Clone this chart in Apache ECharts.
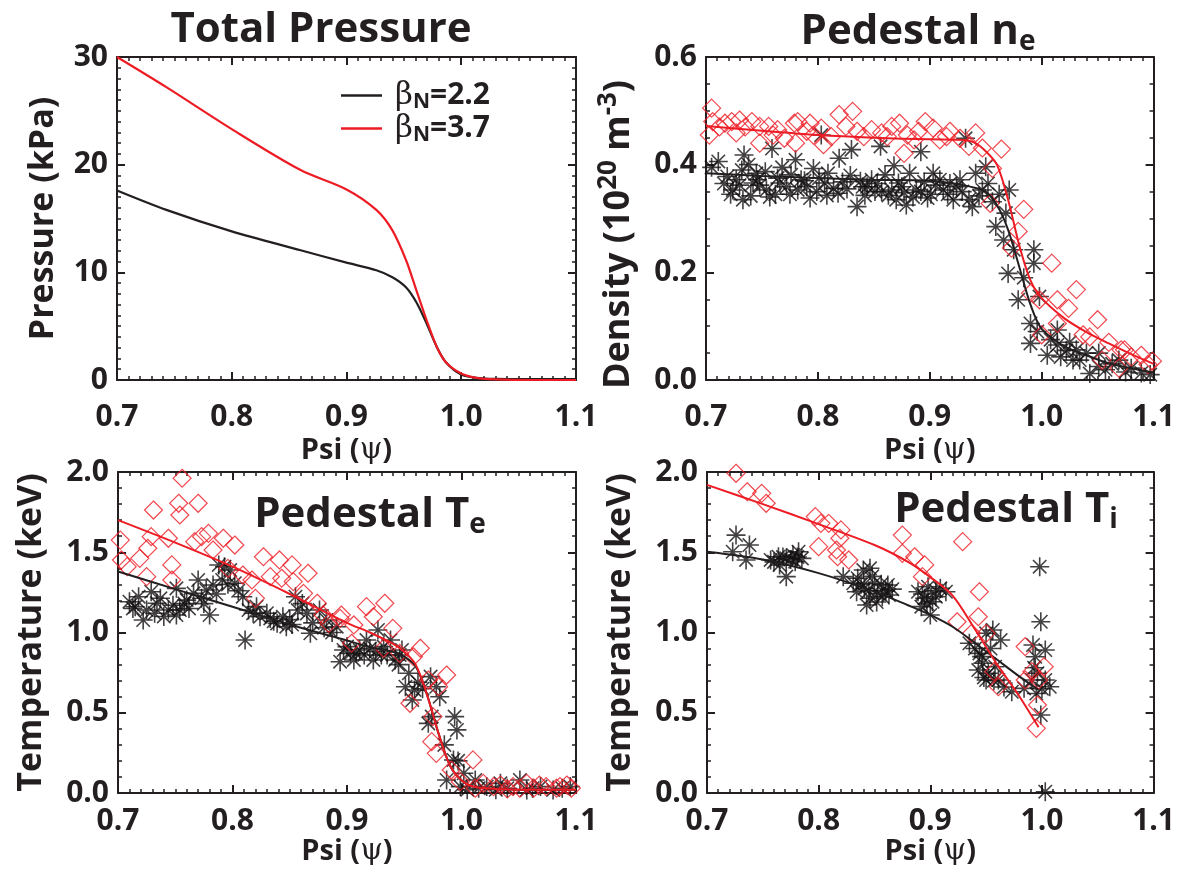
<!DOCTYPE html>
<html>
<head>
<meta charset="utf-8">
<script src="https://cdn.jsdelivr.net/npm/echarts@6/dist/echarts.min.js"></script>
<style>
  html, body { margin: 0; padding: 0; background: #ffffff; }
  #main { width: 1178px; height: 871px; }
</style>
</head>
<body>
<div id="main"></div>
<script>
// ---------------- data ----------------
const betaN = ['2.2', '3.7'];

// Total pressure profiles (kPa) vs normalised flux
const psiP   = [0.70, 0.743, 0.80, 0.86, 0.90, 0.926, 0.94, 0.952, 0.961, 0.97, 0.979, 0.987, 1.00, 1.013, 1.03, 1.06, 1.10];
const pLow   = [17.6, 15.8, 13.8, 12.05, 10.9, 10.2, 9.55, 8.6, 7.2, 5.2, 3.0, 1.6, 0.5, 0.2, 0.1, 0.08, 0.08];
const pHigh  = [30.0, 27.2, 23.3, 19.5, 17.7, 15.8, 13.9, 11.1, 8.3, 5.5, 3.0, 1.6, 0.6, 0.2, 0.05, 0.0, 0.0];

// Pedestal density fits (1e20 m^-3)
const psiN      = [0.70, 0.75, 0.80, 0.85, 0.90, 0.93, 0.94, 0.95, 0.96, 0.97, 0.98, 0.99, 1.00, 1.02, 1.04, 1.06, 1.08, 1.10];
const neLowFit  = [0.384, 0.379, 0.375, 0.372, 0.370, 0.362, 0.357, 0.350, 0.325, 0.279, 0.210, 0.140, 0.095, 0.063, 0.046, 0.031, 0.022, 0.014];
const neHighFit = [0.472, 0.463, 0.455, 0.450, 0.447, 0.446, 0.441, 0.425, 0.400, 0.335, 0.250, 0.185, 0.152, 0.115, 0.089, 0.068, 0.048, 0.030];

const neLowPts = [
  [0.711,0.406],[0.719,0.378],[0.724,0.353],[0.730,0.362],[0.734,0.418],[0.732,0.390],[0.738,0.400],[0.745,0.384],
  [0.748,0.362],[0.754,0.353],[0.753,0.387],[0.759,0.430],[0.764,0.375],[0.772,0.359],[0.776,0.381],[0.780,0.409],
  [0.782,0.353],[0.790,0.359],[0.796,0.393],[0.799,0.350],[0.803,0.455],[0.809,0.384],[0.814,0.356],[0.818,0.347],
  [0.819,0.412],[0.830,0.428],[0.835,0.322],[0.838,0.369],[0.844,0.359],[0.851,0.350],[0.856,0.434],[0.860,0.381],
  [0.866,0.353],[0.870,0.335],[0.879,0.325],[0.882,0.384],[0.888,0.353],[0.892,0.424],[0.898,0.338],[0.903,0.384],
  [0.912,0.353],[0.924,0.359],[0.932,0.449],[0.935,0.335],[0.941,0.384],[0.947,0.353],[0.956,0.331],[0.950,0.396],
  [0.971,0.353],[0.959,0.285],[0.966,0.260],[0.975,0.242],[0.993,0.242],[0.993,0.217],[0.970,0.198],[0.979,0.149],
  [0.998,0.155],[0.990,0.105],[0.990,0.068],[1.014,0.093],[1.014,0.065],[1.017,0.043],[1.031,0.056],[1.034,0.037],
  [1.051,0.050],[1.057,0.019],[1.069,0.037],[1.080,0.022],[1.089,0.013],[1.051,0.025],[1.005,0.046],[1.028,0.037],
  [1.043,0.012],[0.840,0.359],[0.857,0.350],[0.875,0.359],[0.892,0.350],[0.921,0.335],[0.927,0.372],[0.938,0.322],
  [0.705,0.395],[0.716,0.365],[0.727,0.372],[0.742,0.366],[0.766,0.366],[0.788,0.370],[0.806,0.366],[0.826,0.355],
  [0.848,0.372],[0.872,0.366],[0.905,0.362],[0.916,0.345],[0.762,0.345],[0.740,0.342],
  [0.722,0.345],[0.733,0.335],[0.746,0.372],[0.757,0.340],[0.768,0.395],[0.775,0.345],[0.785,0.372],[0.793,0.338],
  [0.801,0.375],[0.808,0.343],[0.822,0.368],[0.829,0.380],[0.842,0.343],[0.853,0.365],[0.863,0.343],[0.868,0.398],
  [0.877,0.348],[0.885,0.340],[0.895,0.368],[0.901,0.345],[0.909,0.372],[0.918,0.365],[0.929,0.350],[0.944,0.342],
  [0.952,0.365],[0.962,0.345],[0.968,0.310],[0.984,0.190],[0.996,0.090],[1.008,0.075],[1.022,0.055],[1.025,0.070],
  [1.040,0.050],[1.063,0.030],[1.075,0.015],[1.097,0.010]
];
const neHighPts = [
  [0.705,0.505],[0.706,0.480],[0.703,0.455],[0.717,0.477],[0.723,0.480],[0.730,0.483],[0.727,0.459],[0.741,0.480],
  [0.748,0.471],[0.756,0.471],[0.748,0.440],[0.764,0.465],[0.770,0.449],[0.779,0.477],[0.782,0.480],[0.780,0.440],
  [0.793,0.477],[0.796,0.455],[0.803,0.468],[0.805,0.437],[0.819,0.493],[0.831,0.499],[0.825,0.471],[0.841,0.452],
  [0.848,0.465],[0.857,0.459],[0.866,0.471],[0.873,0.477],[0.880,0.455],[0.896,0.480],[0.877,0.421],[0.886,0.446],
  [0.903,0.468],[0.918,0.462],[0.909,0.446],[0.927,0.449],[0.941,0.459],[0.935,0.434],[0.947,0.431],[0.964,0.429],
  [0.956,0.393],[0.954,0.328],[0.984,0.317],[0.979,0.276],[0.973,0.245],[1.009,0.217],[0.990,0.161],[0.998,0.149],
  [1.014,0.149],[1.031,0.168],[1.024,0.133],[1.050,0.112],[1.000,0.084],[1.014,0.105],[1.037,0.084],[1.060,0.070],
  [1.054,0.037],[1.071,0.056],[1.080,0.043],[1.089,0.046],[1.095,0.029],[1.069,0.022],[1.099,0.035],[1.043,0.080],
  [1.074,0.056],[0.712,0.470],[0.735,0.470],[0.760,0.455],[0.790,0.462],[0.812,0.452],[0.835,0.462],[0.862,0.452],
  [0.890,0.462],[0.915,0.452]
];

// Pedestal electron temperature (keV)
const psiT      = [0.70, 0.75, 0.80, 0.85, 0.90, 0.92, 0.94, 0.95, 0.96, 0.97, 0.98, 0.99, 1.00, 1.01, 1.03, 1.06, 1.10];
const teLowFit  = [1.38, 1.27, 1.16, 1.05, 0.95, 0.91, 0.88, 0.85, 0.79, 0.61, 0.37, 0.17, 0.08, 0.04, 0.025, 0.02, 0.02];
const teHighFit = [1.70, 1.56, 1.41, 1.24, 1.06, 1.00, 0.93, 0.88, 0.80, 0.61, 0.37, 0.17, 0.08, 0.04, 0.025, 0.02, 0.02];

const teLowPts = [
  [0.710,1.192],[0.718,1.223],[0.722,1.078],[0.725,1.140],[0.729,1.254],[0.734,1.182],[0.737,1.213],[0.744,1.140],
  [0.751,1.109],[0.754,1.140],[0.751,1.275],[0.760,1.202],[0.766,1.244],[0.770,1.327],[0.773,1.213],[0.777,1.265],
  [0.780,1.109],[0.783,1.296],[0.788,1.421],[0.793,1.410],[0.791,1.327],[0.798,1.389],[0.802,1.307],[0.809,1.223],
  [0.811,0.953],[0.814,1.140],[0.821,1.161],[0.824,1.098],[0.833,1.088],[0.839,1.057],[0.844,1.098],[0.847,1.036],
  [0.855,1.223],[0.857,1.140],[0.865,1.119],[0.868,0.995],[0.876,1.140],[0.882,1.078],[0.891,1.036],[0.897,0.891],
  [0.894,0.818],[0.900,0.912],[0.906,0.829],[0.911,0.891],[0.917,0.953],[0.923,0.829],[0.927,1.016],[0.932,0.912],
  [0.938,0.953],[0.942,0.829],[0.948,0.891],[0.951,0.662],[0.954,0.746],[0.959,0.642],[0.957,0.579],[0.973,0.725],
  [0.978,0.662],[0.974,0.476],[0.971,0.434],[0.981,0.600],[0.994,0.476],[0.996,0.393],[0.993,0.206],[0.987,0.081],
  [1.002,0.123],[0.999,0.040],[1.012,0.081],[1.022,0.040],[1.034,0.060],[1.051,0.081],[1.057,0.019],[1.069,0.040],
  [1.080,0.019],[1.095,0.040],[1.005,0.020],[1.040,0.030],[0.715,1.160],[0.740,1.100],[0.758,1.180],[0.805,1.260],
  [0.830,1.120],[0.850,1.080],[0.870,1.060],[0.887,1.000],[0.903,0.870],[0.915,0.860],[0.925,0.880],[0.935,0.860],
  [0.945,0.800],
  [0.713,1.150],[0.732,1.120],[0.748,1.170],[0.762,1.150],[0.775,1.180],[0.786,1.240],[0.796,1.300],[0.818,1.120],
  [0.836,1.070],[0.852,1.050],[0.861,1.180],[0.880,1.030],[0.908,0.870],[0.920,0.900],[0.930,0.860],[0.946,0.860],
  [0.962,0.690],[0.966,0.650],[0.985,0.300],[0.997,0.200],[1.015,0.030],[1.030,0.020],[1.062,0.030],[1.088,0.030]
];
const teHighPts = [
  [0.756,1.961],[0.731,1.763],[0.753,1.805],[0.770,1.805],[0.754,1.732],[0.702,1.576],[0.703,1.452],[0.708,1.410],
  [0.719,1.462],[0.729,1.597],[0.726,1.525],[0.744,1.587],[0.747,1.421],[0.747,1.327],[0.725,1.348],[0.767,1.566],
  [0.773,1.597],[0.779,1.618],[0.783,1.514],[0.792,1.587],[0.802,1.545],[0.796,1.400],[0.809,1.358],[0.817,1.327],
  [0.820,1.213],[0.827,1.472],[0.833,1.348],[0.841,1.452],[0.843,1.338],[0.852,1.421],[0.853,1.317],[0.866,1.369],
  [0.862,1.244],[0.874,1.182],[0.879,1.109],[0.884,1.057],[0.894,1.088],[0.895,1.109],[0.906,1.047],[0.917,1.161],
  [0.933,1.182],[0.923,1.098],[0.940,1.026],[0.904,0.933],[0.932,0.902],[0.946,0.870],[0.964,0.902],[0.958,0.849],
  [0.971,0.704],[0.987,0.735],[0.980,0.662],[0.955,0.559],[0.975,0.476],[0.974,0.320],[0.978,0.247],[0.991,0.143],
  [1.010,0.206],[0.999,0.070],[1.019,0.060],[1.034,0.050],[1.045,0.040],[1.057,0.060],[1.063,0.030],[1.074,0.040],
  [1.083,0.030],[1.092,0.050],[1.096,0.030],[1.051,0.030],[1.028,0.040],[1.068,0.050],[1.012,0.030],[1.040,0.025],
  [1.086,0.040]
];

// Pedestal ion temperature (keV)
const psiTi     = [0.70, 0.75, 0.80, 0.85, 0.88, 0.90, 0.92, 0.94, 0.96, 0.98, 0.997];
const tiLowFit  = [1.503, 1.455, 1.37, 1.255, 1.17, 1.11, 1.036, 0.935, 0.83, 0.725, 0.642];
const tiHighFit = [1.92, 1.80, 1.675, 1.545, 1.44, 1.345, 1.23, 1.02, 0.80, 0.60, 0.41];

const tiLowPts = [
  [0.726,1.607],[0.723,1.503],[0.738,1.545],[0.735,1.452],[0.757,1.452],[0.764,1.472],[0.765,1.421],[0.771,1.348],
  [0.771,1.462],[0.777,1.483],[0.782,1.503],[0.785,1.462],[0.779,1.441],[0.822,1.348],[0.831,1.307],[0.835,1.338],
  [0.840,1.389],[0.846,1.400],[0.841,1.275],[0.846,1.213],[0.843,1.171],[0.850,1.307],[0.853,1.244],[0.857,1.223],
  [0.862,1.296],[0.863,1.234],[0.834,1.254],[0.889,1.254],[0.895,1.213],[0.898,1.285],[0.902,1.192],[0.900,1.109],
  [0.892,1.161],[0.909,1.275],[0.914,1.254],[0.905,1.223],[0.935,0.933],[0.944,0.870],[0.950,0.995],[0.956,1.016],
  [0.963,0.953],[0.947,0.808],[0.952,0.746],[0.958,0.787],[0.961,0.704],[0.950,0.704],[0.943,0.766],[0.973,0.631],
  [0.984,0.652],[0.998,1.410],[0.999,1.067],[0.992,0.922],[1.003,0.891],[0.994,0.849],[0.996,0.746],[0.991,0.704],
  [1.003,0.704],[1.007,0.662],[0.999,0.486],[1.003,0.008],
  [0.760,1.440],[0.768,1.470],[0.775,1.455],[0.781,1.470],[0.838,1.300],[0.845,1.260],[0.848,1.350],[0.852,1.190],
  [0.856,1.300],[0.860,1.260],[0.866,1.270],[0.893,1.240],[0.897,1.180],[0.905,1.260],[0.946,0.850],[0.954,0.900],
  [0.948,0.720],[0.957,0.700],[0.966,0.660],[0.940,0.900],[0.993,0.780],[1.000,0.650],[0.995,0.620]
];
const tiHighPts = [
  [0.726,1.992],[0.736,1.877],[0.749,1.867],[0.753,1.805],[0.797,1.722],[0.802,1.680],[0.809,1.680],[0.820,1.639],
  [0.819,1.587],[0.800,1.535],[0.816,1.514],[0.817,1.472],[0.827,1.452],[0.875,1.607],[0.875,1.493],[0.886,1.472],
  [0.895,1.421],[0.893,1.348],[0.929,1.566],[0.944,1.254],[0.924,1.067],[0.943,1.098],[0.937,0.995],[0.957,0.756],
  [0.961,0.662],[0.985,0.912],[0.991,0.756],[1.002,0.787],[0.997,0.704],[0.996,0.548],[0.995,0.403],[0.985,0.704],
  [0.950,0.995]
];

// ---------------- styling helpers ----------------
const INK = '#231f20';
const STAR = '#141213';
const RED = '#ed1c24';
const FONT = '"Open Sans", "Noto Sans", sans-serif';
const SERIF = '"DejaVu Serif", "Liberation Serif", serif';
const ASTERISK = 'path://M10 0L10 20M0 10L20 10M2.93 2.93L17.07 17.07M2.93 17.07L17.07 2.93';

const zip = (xs, ys) => xs.map((x, i) => [x, ys[i]]);

const grids = [
  { left: 117, top: 57,  width: 459, height: 323 },
  { left: 706, top: 57,  width: 460, height: 323 },
  { left: 118, top: 472, width: 458, height: 321 },
  { left: 707, top: 472, width: 459, height: 321 }
];

function nameRich(size, supSize) {
  return {
    a:   { fontFamily: FONT, fontWeight: 'bold', fontSize: size, color: INK },
    g:   { fontFamily: SERIF, fontSize: size, color: INK },
    sup: { fontFamily: FONT, fontWeight: 'bold', fontSize: supSize, color: INK, padding: [0, 0, 20, 0] }
  };
}

// boxed frame: inward major ticks plus fine minor ticks on every side
function frameAxis(extra, split) {
  return Object.assign({
    type: 'value',
    splitLine: { show: false },
    axisLine: { show: true, onZero: false, lineStyle: { color: INK, width: 2 } },
    axisTick: { show: true, inside: true, length: 8, lineStyle: { color: INK, width: 2 } },
    minorTick: { show: true, splitNumber: split, length: 4, lineStyle: { color: INK, width: 1.5 } }
  }, extra);
}

function labelOpt(margin, digits) {
  return {
    show: true, margin, formatter: v => v.toFixed(digits),
    fontFamily: FONT, fontWeight: 'bold', fontSize: 30, color: INK
  };
}

function xAxes(g, nameGap, margin) {
  const range = { gridIndex: g, min: 0.7, max: 1.1, interval: 0.1 };
  return [
    frameAxis(Object.assign({}, range, {
      position: 'bottom', axisLabel: labelOpt(margin, 1),
      name: '{a|Psi (}{g|ψ}{a|)}', nameLocation: 'middle', nameGap,
      nameTextStyle: { rich: nameRich(29, 20) }
    }), 10),
    frameAxis(Object.assign({}, range, { position: 'top', axisLabel: { show: false } }), 10)
  ];
}

function yAxes(g, min, max, interval, split, digits, name, nameGap, nameStyle) {
  const range = { gridIndex: g, min, max, interval };
  return [
    frameAxis(Object.assign({}, range, {
      position: 'left', axisLabel: labelOpt(9, digits),
      name, nameLocation: 'middle', nameGap, nameRotate: 90, nameTextStyle: nameStyle
    }), split),
    frameAxis(Object.assign({}, range, { position: 'right', axisLabel: { show: false } }), split)
  ];
}

function fitLine(g, name, xs, ys, color, width) {
  return {
    type: 'line', name, xAxisIndex: 2 * g, yAxisIndex: 2 * g,
    data: zip(xs, ys), symbol: 'none', showSymbol: false, smooth: 0.3,
    lineStyle: { color, width }, itemStyle: { color }
  };
}
function stars(g, pts) {
  return {
    type: 'scatter', name: 'stars' + g, xAxisIndex: 2 * g, yAxisIndex: 2 * g, data: pts,
    symbol: ASTERISK, symbolSize: 19,
    itemStyle: { color: 'rgba(0,0,0,0)', borderColor: STAR, borderWidth: 1.6 }
  };
}
function diamonds(g, pts) {
  return {
    type: 'scatter', name: 'diamonds' + g, xAxisIndex: 2 * g, yAxisIndex: 2 * g, data: pts,
    symbol: 'diamond', symbolSize: 18,
    itemStyle: { color: 'rgba(0,0,0,0)', borderColor: RED, borderWidth: 1.2 }
  };
}

const legendNames = betaN.map(b => 'βN=' + b);

const xAxis = [].concat(
  xAxes(0, 56, 22), xAxes(1, 56, 22), xAxes(2, 44, 13), xAxes(3, 44, 13)
);
const yAxis = [].concat(
  yAxes(0, 0, 30, 10, 10, 0, '{a|Pressure (kPa)}', 57, { rich: nameRich(34, 24) }),
  yAxes(1, 0, 0.6, 0.2, 4, 1, '{a|Density (10}{sup|20}{a| m}{sup|-3}{a|)}', 64,
        { rich: nameRich(36, 26), padding: [0, 32, 0, 0] }),
  yAxes(2, 0, 2.0, 0.5, 5, 1, '{a|Temperature (keV)}', 70, { rich: nameRich(34, 24) }),
  yAxes(3, 0, 2.0, 0.5, 5, 1, '{a|Temperature (keV)}', 70, { rich: nameRich(34, 24) })
);

const series = [
  fitLine(0, legendNames[0], psiP, pLow, INK, 2.2),
  fitLine(0, legendNames[1], psiP, pHigh, RED, 2.2),

  stars(1, neLowPts),
  fitLine(1, 'neLowFit', psiN, neLowFit, INK, 2),
  diamonds(1, neHighPts),
  fitLine(1, 'neHighFit', psiN, neHighFit, RED, 2),

  stars(2, teLowPts),
  fitLine(2, 'teLowFit', psiT, teLowFit, INK, 2),
  diamonds(2, teHighPts),
  fitLine(2, 'teHighFit', psiT, teHighFit, RED, 2),

  stars(3, tiLowPts),
  fitLine(3, 'tiLowFit', psiTi, tiLowFit, INK, 2),
  diamonds(3, tiHighPts),
  fitLine(3, 'tiHighFit', psiTi, tiHighFit, RED, 2)
];

function title(x, y, text) {
  return {
    type: 'text', x, y, silent: true,
    style: {
      text, align: 'center', verticalAlign: 'middle',
      rich: {
        m: { fontFamily: FONT, fontWeight: 'bold', fontSize: 42, fill: INK },
        s: { fontFamily: FONT, fontWeight: 'bold', fontSize: 28, fill: INK, padding: [20, 0, 0, 0] }
      }
    }
  };
}

const option = {
  animation: false,
  grid: grids,
  xAxis, yAxis, series,
  legend: {
    data: legendNames, left: 336, top: 75, orient: 'vertical', itemGap: 0,
    itemWidth: 41, itemHeight: 2.5, icon: 'rect', selectedMode: false,
    formatter: name => '{b|β}{n|N}{t|=' + name.slice(3) + '}',
    textStyle: {
      rich: {
        b: { fontFamily: SERIF, fontSize: 31, color: INK, padding: [0, 0, 0, 8], lineHeight: 34 },
        n: { fontFamily: FONT, fontWeight: 'bold', fontSize: 21, color: INK, padding: [14, 0, 0, 0] },
        t: { fontFamily: FONT, fontWeight: 'bold', fontSize: 30, color: INK, lineHeight: 34 }
      }
    }
  },
  graphic: [
    title(321, 30, '{m|Total Pressure}'),
    title(918, 32, '{m|Pedestal n}{s|e}'),
    title(370, 515, '{m|Pedestal T}{s|e}'),
    title(1006, 510, '{m|Pedestal T}{s|i}')
  ]
};

const chart = echarts.init(document.getElementById('main'));
chart.setOption(option);
</script>
</body>
</html>
